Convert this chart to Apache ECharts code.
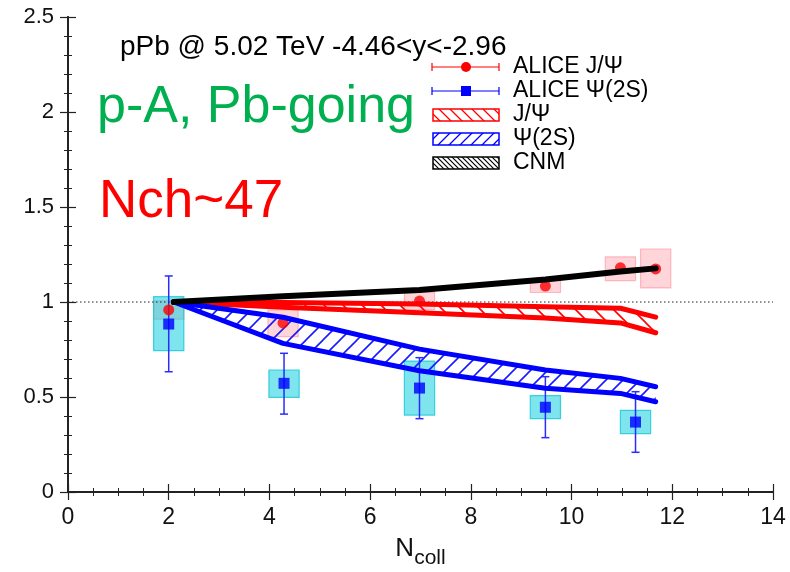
<!DOCTYPE html>
<html><head><meta charset="utf-8">
<script src="https://cdn.jsdelivr.net/npm/echarts@6/dist/echarts.min.js"></script>
<style>html,body{margin:0;padding:0;background:#fff}#c{width:790px;height:572px}</style>
</head><body><div id="c"></div>
<script>
// ---- data ----
const xTicks = [0, 2, 4, 6, 8, 10, 12, 14];
const yTicks = [0, 0.5, 1, 1.5, 2, 2.5];
const jpsiX = [2.0, 4.27, 6.98, 9.48, 10.97, 11.67];
const jpsiY = [0.958, 0.89, 1.005, 1.084, 1.18, 1.174];
const jpsiSysLo = [0.91, 0.818, 0.96, 1.05, 1.113, 1.074];
const jpsiSysHi = [1.006, 0.958, 1.05, 1.116, 1.237, 1.279];
const psi2sX = [2.0, 4.29, 6.98, 9.48, 11.27];
const psi2sY = [0.884, 0.572, 0.547, 0.446, 0.368];
const psi2sStatLo = [0.633, 0.41, 0.386, 0.286, 0.209];
const psi2sStatHi = [1.137, 0.73, 0.707, 0.607, 0.528];
const psi2sSysLo = [0.744, 0.498, 0.405, 0.386, 0.307];
const psi2sSysHi = [1.028, 0.642, 0.689, 0.507, 0.43];
const theoryX = [2.1, 4.27, 6.98, 9.48, 10.97, 11.67];
const jpsiBandHi = [1.0, 0.997, 0.99, 0.975, 0.967, 0.92];
const jpsiBandLo = [1.0, 0.972, 0.944, 0.916, 0.89, 0.838];
const psi2sBandHi = [1.0, 0.92, 0.752, 0.642, 0.598, 0.554];
const psi2sBandLo = [1.0, 0.782, 0.638, 0.546, 0.519, 0.475];
const cnm = [1.0, 1.03, 1.063, 1.118, 1.16, 1.177];
const refLineX = [0, 14];
const refLineY = [1, 1];

// ---- helpers ----
const FONT = 'Liberation Sans, Arial, sans-serif';
function hatch(color, s, dir, lw) {
  const c = document.createElement('canvas');
  c.width = s; c.height = s;
  const g = c.getContext('2d');
  g.strokeStyle = color; g.lineWidth = lw;
  g.beginPath();
  if (dir === '/') {
    for (const k of [0, 1, 2]) { g.moveTo(k * s + 1, -1); g.lineTo(k * s - s - 1, s + 1); }
  } else {
    for (const k of [-1, 0, 1]) { g.moveTo(k * s - 1, -1); g.lineTo(k * s + s + 1, s + 1); }
  }
  g.stroke();
  return { image: c, repeat: 'repeat' };
}
const redHatch = hatch('#ff0000', 19, '\\', 1.6);
const blueHatch = hatch('#1a1aff', 17, '/', 1.6);
const blackHatch = hatch('#000000', 5, '\\', 1.2);

function pairs(xs, ys) { return xs.map((x, i) => [x, ys[i]]); }
function boxes(xs, lo, hi) { return xs.map((x, i) => [x, lo[i], hi[i]]); }

function boxSeries(data, fill, stroke) {
  return {
    type: 'custom', data: data, encode: { x: 0, y: [1, 2] }, silent: true,
    renderItem: function (params, api) {
      const x = api.value(0), lo = api.value(1), hi = api.value(2);
      const hw = 0.3;
      const a = api.coord([x - hw, hi]), b = api.coord([x + hw, lo]);
      return { type: 'rect', shape: { x: a[0], y: a[1], width: b[0] - a[0], height: b[1] - a[1] },
        style: { fill: fill, stroke: stroke, lineWidth: 1.2 } };
    }
  };
}
function errSeries(data, color) {
  return {
    type: 'custom', data: data, encode: { x: 0, y: [1, 2] }, silent: true,
    renderItem: function (params, api) {
      const x = api.value(0);
      const a = api.coord([x, api.value(2)]), b = api.coord([x, api.value(1)]);
      const cw = 4;
      const st = { stroke: color, lineWidth: 1.5 };
      return { type: 'group', children: [
        { type: 'line', shape: { x1: a[0], y1: a[1], x2: b[0], y2: b[1] }, style: st },
        { type: 'line', shape: { x1: a[0] - cw, y1: a[1], x2: a[0] + cw, y2: a[1] }, style: st },
        { type: 'line', shape: { x1: b[0] - cw, y1: b[1], x2: b[0] + cw, y2: b[1] }, style: st }
      ] };
    }
  };
}
function bandSeries(xs, hi, lo, pattern) {
  return {
    type: 'custom', data: pairs(xs, hi), encode: { x: 0, y: 1 }, silent: true,
    renderItem: function (params, api) {
      if (params.dataIndex !== 0) return null;
      const pts = [];
      for (let i = 0; i < xs.length; i++) pts.push(api.coord([xs[i], hi[i]]));
      for (let i = xs.length - 1; i >= 0; i--) pts.push(api.coord([xs[i], lo[i]]));
      return { type: 'polygon', shape: { points: pts }, style: { fill: pattern, stroke: null } };
    }
  };
}
function lineSeries(data, color, w) {
  return { type: 'line', data: data, symbol: 'none', silent: true,
    lineStyle: { color: color, width: w, cap: 'round', join: 'round' } };
}

const axisCommon = {
  type: 'value',
  axisLine: { show: true, lineStyle: { color: '#222', width: 1.8 } },
  axisTick: { show: true, inside: true, length: 8, lineStyle: { color: '#222', width: 1.2 } },
  minorTick: { show: true, length: 4, lineStyle: { color: '#222', width: 1 } },
  splitLine: { show: false }
};

const chart = echarts.init(document.getElementById('c'));
chart.setOption({
  animation: false,
  grid: { left: 68, right: 17, top: 17, bottom: 80, containLabel: false, outerBoundsMode: 'none' },
  xAxis: [
    Object.assign({}, axisCommon, { position: 'bottom', min: xTicks[0], max: xTicks[xTicks.length - 1], interval: 2,
      minorTick: Object.assign({}, axisCommon.minorTick, { splitNumber: 4 }),
      axisLabel: { fontSize: 23, margin: 14, color: '#111', fontFamily: FONT },
      name: '{n|N}{s|coll}', nameLocation: 'middle', nameGap: 37,
      nameTextStyle: { fontFamily: FONT, color: '#111',
        rich: { n: { fontSize: 26, lineHeight: 40, fontFamily: FONT, color: '#111', verticalAlign: 'middle' },
                s: { fontSize: 21, lineHeight: 21, fontFamily: FONT, color: '#111', verticalAlign: 'bottom' } } } }),
    Object.assign({}, axisCommon, { position: 'top', min: xTicks[0], max: xTicks[xTicks.length - 1], interval: 2,
      minorTick: Object.assign({}, axisCommon.minorTick, { splitNumber: 4 }),
      axisLabel: { show: false } })
  ],
  yAxis: [
    Object.assign({}, axisCommon, { position: 'left', min: yTicks[0], max: yTicks[yTicks.length - 1], interval: 0.5,
      minorTick: Object.assign({}, axisCommon.minorTick, { splitNumber: 5 }),
      axisLabel: { fontSize: 22, margin: 14, color: '#111', fontFamily: FONT } }),
    Object.assign({}, axisCommon, { position: 'right', min: yTicks[0], max: yTicks[yTicks.length - 1], interval: 0.5,
      minorTick: Object.assign({}, axisCommon.minorTick, { splitNumber: 5 }),
      axisLabel: { show: false } })
  ],
  series: [
    { type: 'line', data: pairs(refLineX, refLineY), symbol: 'none', silent: true,
      lineStyle: { color: '#222', width: 1.2, type: [1.5, 2.5] } },
    boxSeries(boxes(jpsiX, jpsiSysLo, jpsiSysHi), 'rgba(255,150,160,0.4)', 'rgba(255,150,165,0.65)'),
    boxSeries(boxes(psi2sX, psi2sSysLo, psi2sSysHi), 'rgba(40,210,225,0.6)', 'rgba(20,200,215,0.8)'),
    errSeries(boxes(psi2sX, psi2sStatLo, psi2sStatHi), '#2b2bff'),
    bandSeries(theoryX, jpsiBandHi, jpsiBandLo, redHatch),
    bandSeries(theoryX, psi2sBandHi, psi2sBandLo, blueHatch),
    lineSeries(pairs(theoryX, jpsiBandHi), '#ff0000', 5),
    lineSeries(pairs(theoryX, jpsiBandLo), '#ff0000', 5),
    lineSeries(pairs(theoryX, psi2sBandHi), '#0000ff', 5),
    lineSeries(pairs(theoryX, psi2sBandLo), '#0000ff', 5),
    lineSeries(pairs(theoryX, cnm), '#000000', 6),
    { type: 'scatter', data: pairs(jpsiX, jpsiY), symbol: 'circle', symbolSize: 11, silent: true,
      itemStyle: { color: '#ff0000' } },
    { type: 'scatter', data: pairs(psi2sX, psi2sY), symbol: 'rect', symbolSize: 11, silent: true,
      itemStyle: { color: '#0000ff' } }
  ],
  graphic: [
    { type: 'text', left: 120, top: 33, style: { text: 'pPb @ 5.02 TeV -4.46<y<-2.96', font: '28px ' + FONT, fill: '#000' } },
    { type: 'text', left: 97, top: 82, style: { text: 'p-A, Pb-going', font: '52px ' + FONT, fill: '#00b050' } },
    { type: 'text', left: 99, top: 176, style: { text: 'Nch~47', font: '53px ' + FONT, fill: '#ff0000' } },
    // legend
    { type: 'line', shape: { x1: 432, y1: 67, x2: 499, y2: 67 }, style: { stroke: '#ff0000', lineWidth: 1.2 } },
    { type: 'line', shape: { x1: 432, y1: 63, x2: 432, y2: 71 }, style: { stroke: '#ff0000', lineWidth: 1.2 } },
    { type: 'line', shape: { x1: 499, y1: 63, x2: 499, y2: 71 }, style: { stroke: '#ff0000', lineWidth: 1.2 } },
    { type: 'circle', shape: { cx: 466, cy: 67, r: 5 }, style: { fill: '#ff0000' } },
    { type: 'line', shape: { x1: 432, y1: 91, x2: 499, y2: 91 }, style: { stroke: '#0000ff', lineWidth: 1.2 } },
    { type: 'line', shape: { x1: 432, y1: 87, x2: 432, y2: 95 }, style: { stroke: '#0000ff', lineWidth: 1.2 } },
    { type: 'line', shape: { x1: 499, y1: 87, x2: 499, y2: 95 }, style: { stroke: '#0000ff', lineWidth: 1.2 } },
    { type: 'rect', shape: { x: 461, y: 86, width: 10, height: 10 }, style: { fill: '#0000ff' } },
    { type: 'rect', shape: { x: 433, y: 109, width: 66, height: 12 }, style: { fill: hatch('#ff0000', 11, '\\', 1.3), stroke: '#ff0000', lineWidth: 1.5 } },
    { type: 'rect', shape: { x: 433, y: 133, width: 66, height: 12 }, style: { fill: hatch('#0000ff', 11, '/', 1.3), stroke: '#0000ff', lineWidth: 1.5 } },
    { type: 'rect', shape: { x: 433, y: 157, width: 66, height: 12 }, style: { fill: blackHatch, stroke: '#000', lineWidth: 1.5 } },
    { type: 'text', left: 513, top: 55, style: { text: 'ALICE J/Ψ', font: '23px ' + FONT, fill: '#000' } },
    { type: 'text', left: 513, top: 79, style: { text: 'ALICE Ψ(2S)', font: '23px ' + FONT, fill: '#000' } },
    { type: 'text', left: 513, top: 103, style: { text: 'J/Ψ', font: '23px ' + FONT, fill: '#000' } },
    { type: 'text', left: 513, top: 127, style: { text: 'Ψ(2S)', font: '23px ' + FONT, fill: '#000' } },
    { type: 'text', left: 513, top: 151, style: { text: 'CNM', font: '23px ' + FONT, fill: '#000' } }
  ]
});
</script>
</body></html>
